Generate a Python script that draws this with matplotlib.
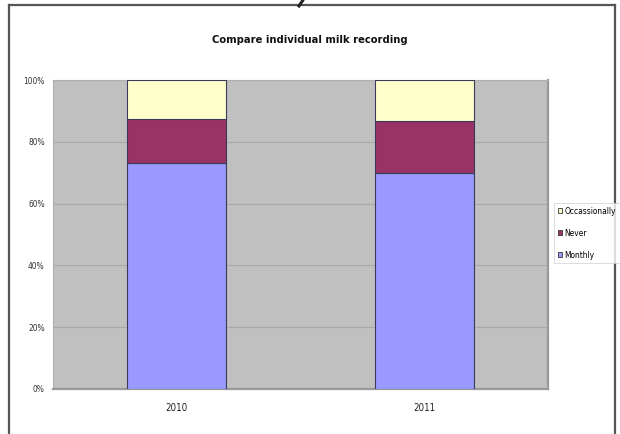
import matplotlib
matplotlib.use("Agg")
import matplotlib.pyplot as plt
from matplotlib import font_manager as fm
from matplotlib.lines import Line2D
from matplotlib.patches import Patch

years = ["2010", "2011"]
monthly = [73.2, 69.8]
never = [14.2, 17.0]
occasionally = [12.6, 13.2]
series_names = ["Monthly", "Never", "Occassionally"]
series_colors = ["#9999FF", "#993366", "#FFFFCC"]
y_ticks = [0, 20, 40, 60, 80, 100]
y_tick_labels = ["0%", "20%", "40%", "60%", "80%", "100%"]


def narrow_font(bold=False):
    """Pick a condensed sans-serif face if one is installed."""
    entries = fm.fontManager.ttflist
    want_w = 700 if bold else 400

    def weight_num(w):
        if isinstance(w, (int, float)):
            return w
        return fm.weight_dict.get(w, 400)

    prefs = []
    for f in entries:
        name = f.name
        stretch = str(f.stretch)
        is_narrow = ("Narrow" in name or "Condensed" in name
                     or stretch in ("condensed", "semi-condensed", "extra-condensed",
                                    "ultra-condensed"))
        if not is_narrow or f.style != "normal":
            continue
        if abs(weight_num(f.weight) - want_w) > 150:
            continue
        rank = 3
        if "Liberation" in name:
            rank = 0
        elif "DejaVu" in name:
            rank = 1
        elif "Roboto" in name or "Open Sans" in name or "Noto" in name:
            rank = 2
        prefs.append((rank, f.fname))
    if prefs:
        prefs.sort()
        return fm.FontProperties(fname=prefs[0][1])
    return fm.FontProperties(family="Roboto", weight="bold" if bold else "normal")


reg = narrow_font(False)
bold = narrow_font(True)


def fp(base, size):
    p = base.copy()
    p.set_size(size)
    return p


fig = plt.figure(figsize=(6.2, 4.34), dpi=100)
fig.patch.set_facecolor("white")

# outer frame of the slide
frame_color = "#555555"
fig.add_artist(Line2D([9 / 620, 9 / 620], [0, 1 - 5 / 434], color=frame_color, lw=1.6))
fig.add_artist(Line2D([9 / 620, 615 / 620], [1 - 5 / 434, 1 - 5 / 434], color=frame_color, lw=1.6))
fig.add_artist(Line2D([615 / 620, 615 / 620], [0, 1 - 5 / 434], color=frame_color, lw=1.6))
# tail of a heading stroke poking below the top edge
fig.add_artist(Line2D([303 / 620, 299 / 620], [1.0, 1 - 6 / 434], color="#222222", lw=2.2))

ax = fig.add_axes([53 / 620, 45 / 434, 495 / 620, 309 / 434])
ax.set_facecolor("#C0C0C0")

x = list(range(len(years)))
bottoms = [0.0] * len(years)
for name, vals, col in zip(series_names, [monthly, never, occasionally], series_colors):
    ax.bar(x, vals, width=0.4, bottom=bottoms, color=col, edgecolor="#3a3a5a",
           linewidth=0.8, label=name, zorder=3)
    bottoms = [b + v for b, v in zip(bottoms, vals)]

ax.set_xlim(-0.5, 1.5)
ax.set_ylim(0, 100)
ax.set_yticks(y_ticks)
ax.set_yticklabels(y_tick_labels, fontproperties=fp(reg, 6), color="#333333")
ax.set_xticks(x)
ax.set_xticklabels(years, fontproperties=fp(reg, 7), color="#222222")
ax.tick_params(axis="both", length=0)
ax.tick_params(axis="y", pad=6)
ax.tick_params(axis="x", pad=10)
ax.grid(axis="y", color="#A8A8A8", linewidth=0.8, zorder=1)

for side in ["top", "left"]:
    ax.spines[side].set_color("#B0B0B0")
    ax.spines[side].set_linewidth(0.8)
for side in ["right", "bottom"]:
    ax.spines[side].set_color("#999999")
    ax.spines[side].set_linewidth(1.6)

fig.text(0.5, 1 - 40 / 434, "Compare individual milk recording", ha="center", va="center",
         fontproperties=fp(bold, 8), color="#111111")

handles = [Patch(facecolor=c, edgecolor="#333333", linewidth=0.6) for c in series_colors][::-1]
leg = fig.legend(handles, series_names[::-1], loc="upper left",
                 bbox_to_anchor=(554 / 620, 1 - 203 / 434), frameon=True,
                 prop=fp(reg, 6), handlelength=0.55, handleheight=0.6,
                 handletextpad=0.25, labelspacing=1.55, borderpad=0.45, borderaxespad=0,
                 fancybox=False)
leg.get_frame().set_edgecolor("#CCCCCC")
leg.get_frame().set_linewidth(0.6)

fig.savefig("out.png", dpi=100)
